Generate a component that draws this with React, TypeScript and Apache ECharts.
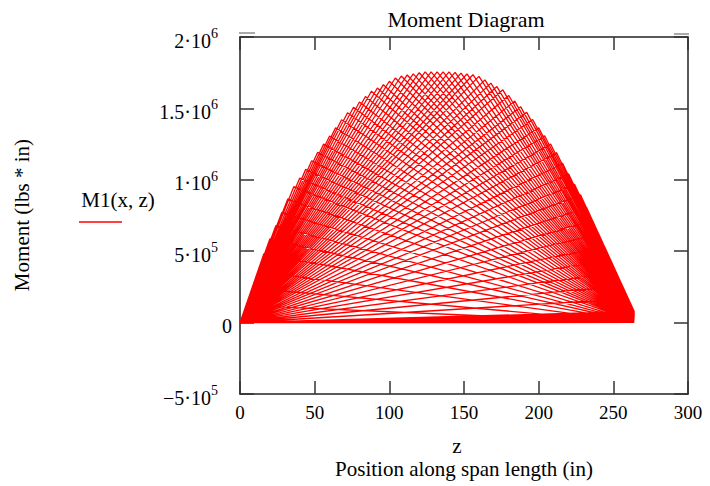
import { useEffect, useRef } from "react";
import * as echarts from "echarts";

// Span of the beam (in)
const spanStart = 0;
const spanEnd = 264;

// Load positions (in) of each trace
const loadPositions = [
  0, 4, 8, 12, 16, 20, 24, 28, 32, 36, 40, 44, 48, 52, 56, 60, 64, 68, 72, 76, 80, 84, 88, 92, 96,
  100, 104, 108, 112, 116, 120, 124, 128, 132, 136, 140, 144, 148, 152, 156, 160, 164, 168, 172,
  176, 180, 184, 188, 192, 196, 200, 204, 208, 212, 216, 220, 224, 228, 232, 236, 240, 244, 248,
  252, 256, 260, 264,
];
// Peak moment of each trace (kip*in)
const peakMoments = [
  0, 120, 241, 361, 482, 586, 679, 772, 866, 952, 1012, 1073, 1133, 1193, 1250, 1307, 1364, 1421,
  1470, 1508, 1545, 1583, 1620, 1643, 1666, 1690, 1713, 1727, 1734, 1742, 1750, 1756, 1756, 1756,
  1756, 1756, 1752, 1747, 1741, 1736, 1724, 1700, 1677, 1653, 1630, 1590, 1551, 1511, 1472, 1422,
  1365, 1308, 1251, 1190, 1116, 1042, 969, 895, 807, 716, 625, 535, 443, 351, 259, 167, 75,
];
// Moment of each trace at the end of the plotted span (kip*in)
const endMoments = [
  0, 1, 2, 4, 5, 6, 7, 8, 10, 11, 12, 13, 14, 16, 17, 18, 19, 20, 22, 23, 24, 25, 26, 28, 29, 30,
  31, 32, 34, 35, 36, 37, 38, 40, 41, 42, 43, 44, 46, 47, 48, 49, 50, 52, 53, 54, 55, 56, 58, 59,
  60, 61, 62, 64, 65, 66, 67, 68, 70, 71, 72, 73, 74, 76, 77, 78, 75,
];

// Axis ticks
const xTicks = [0, 50, 100, 150, 200, 250, 300];
const yTickValues = [-500000, 0, 500000, 1000000, 1500000, 2000000];
const yTickMantissa = ["\u22125\u00b710", "0", "5\u00b710", "1\u00b710", "1.5\u00b710", "2\u00b710"];
const yTickExponent = ["5", "", "5", "6", "6", "6"];

const FONT = "'Liberation Serif', 'Times New Roman', serif";

export default function App() {
  const ref = useRef<HTMLDivElement>(null);

  useEffect(() => {
    if (!ref.current) return;
    const chart = echarts.init(ref.current, undefined, { renderer: "svg" });

    const traceData: number[][] = [];
    loadPositions.forEach((x, i) => {
      traceData.push([spanStart, 0]);
      traceData.push([x, peakMoments[i] * 1000]);
      traceData.push([spanEnd, endMoments[i] * 1000]);
    });
    traceData.push([spanStart, 0]);
    traceData.push([spanEnd, 0]);

    const yLabel = (v: number) => {
      const idx = yTickValues.findIndex((t) => Math.abs(t - v) < 1);
      if (idx < 0) return "";
      if (!yTickExponent[idx]) return `{z|${yTickMantissa[idx]}}`;
      return `{m|${yTickMantissa[idx]}}{e|${yTickExponent[idx]}}`;
    };

    const axisLineStyle = { color: "#222", width: 1.5 };
    const tickStyle = { color: "#333", width: 1.5 };

    chart.setOption({
      animation: false,
      backgroundColor: "#ffffff",
      grid: { left: 240, right: 22, top: 37, bottom: 92, containLabel: false },
      xAxis: [
        {
          type: "value",
          position: "bottom",
          min: xTicks[0],
          max: xTicks[xTicks.length - 1],
          interval: 50,
          axisLine: { show: true, onZero: false, lineStyle: axisLineStyle },
          axisTick: { show: true, inside: true, length: 13, lineStyle: tickStyle },
          splitLine: { show: false },
          axisLabel: { fontFamily: FONT, fontSize: 19, color: "#000", margin: 9 },
        },
        {
          type: "value",
          position: "top",
          min: xTicks[0],
          max: xTicks[xTicks.length - 1],
          interval: 50,
          axisLine: { show: true, onZero: false, lineStyle: axisLineStyle },
          axisTick: { show: true, inside: true, length: 13, lineStyle: tickStyle },
          splitLine: { show: false },
          axisLabel: { show: false },
        },
      ],
      yAxis: [
        {
          type: "value",
          position: "left",
          min: yTickValues[0],
          max: yTickValues[yTickValues.length - 1],
          interval: 500000,
          axisLine: { show: true, onZero: false, lineStyle: axisLineStyle },
          axisTick: { show: true, inside: true, length: 14, lineStyle: tickStyle },
          splitLine: { show: false },
          axisLabel: {
            margin: 8,
            formatter: yLabel,
            rich: {
              m: { fontFamily: FONT, fontSize: 20, color: "#000", padding: [7, 0, 0, 0] },
              e: { fontFamily: FONT, fontSize: 14, color: "#000", padding: [0, 14, 7, 0] },
              z: { fontFamily: FONT, fontSize: 20, color: "#000", padding: [7, 0, 0, 0] },
            },
          },
        },
        {
          type: "value",
          position: "right",
          min: yTickValues[0],
          max: yTickValues[yTickValues.length - 1],
          interval: 500000,
          axisLine: { show: true, onZero: false, lineStyle: axisLineStyle },
          axisTick: { show: true, inside: true, length: 14, lineStyle: tickStyle },
          splitLine: { show: false },
          axisLabel: { show: false },
        },
      ],
      series: [
        {
          type: "line",
          name: "M1(x, z)",
          xAxisIndex: 0,
          yAxisIndex: 0,
          data: traceData,
          showSymbol: false,
          symbol: "none",
          lineStyle: { color: "#ff0000", width: 1.3 },
          clip: true,
        },
      ],
      graphic: [
        {
          type: "text",
          x: 466,
          y: 19,
          style: { text: "Moment Diagram", fontFamily: FONT, fontSize: 22, fill: "#000", align: "center", verticalAlign: "middle" },
        },
        {
          type: "text",
          x: 457,
          y: 446,
          style: { text: "z", fontFamily: FONT, fontSize: 21, fill: "#000", align: "center", verticalAlign: "middle" },
        },
        {
          type: "text",
          x: 464,
          y: 469,
          style: { text: "Position along span length (in)", fontFamily: FONT, fontSize: 21, fill: "#000", align: "center", verticalAlign: "middle" },
        },
        {
          type: "text",
          x: 22,
          y: 215,
          rotation: Math.PI / 2,
          style: { text: "Moment (lbs * in)", fontFamily: FONT, fontSize: 21, fill: "#000", align: "center", verticalAlign: "middle" },
        },
        {
          type: "text",
          x: 118,
          y: 200,
          style: { text: "M1(x, z)", fontFamily: FONT, fontSize: 21, fill: "#000", align: "center", verticalAlign: "middle" },
        },
        {
          type: "line",
          shape: { x1: 79, y1: 222, x2: 122, y2: 222 },
          style: { stroke: "#ff0000", lineWidth: 1.5 },
        },
        {
          type: "line",
          shape: { x1: 239, y1: 33, x2: 255, y2: 33 },
          style: { stroke: "#555", lineWidth: 1 },
        },
        {
          type: "line",
          shape: { x1: 674, y1: 34, x2: 689, y2: 34 },
          style: { stroke: "#555", lineWidth: 1 },
        },
      ],
    });

    return () => chart.dispose();
  }, []);

  return (
    <div
      ref={ref}
      style={{ position: "fixed", left: 0, top: 0, width: 710, height: 486, background: "#fff" }}
    />
  );
}
